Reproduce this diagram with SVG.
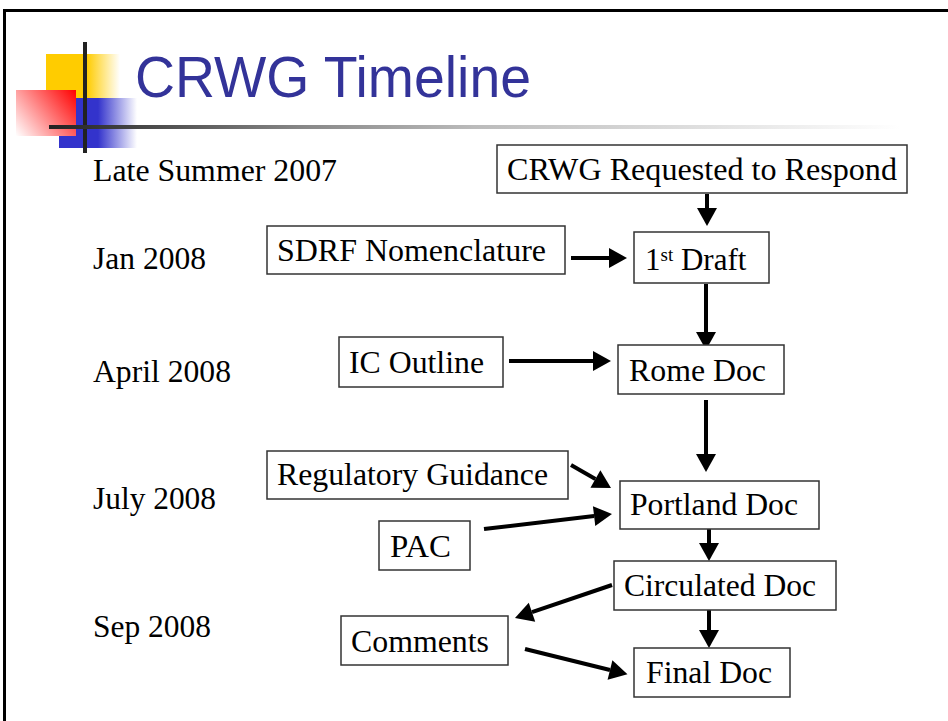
<svg xmlns="http://www.w3.org/2000/svg" width="948" height="721" viewBox="0 0 948 721">
<defs>
<style>
.lbl{font-family:"Liberation Serif","Times New Roman",serif;font-size:31px;fill:#000}
.box rect{fill:#fff;stroke:#333;stroke-width:1.5}
.conn path{fill:none;stroke:#000;stroke-width:4;marker-end:url(#ah)}
</style>
<marker id="ah" markerUnits="userSpaceOnUse" markerWidth="18" markerHeight="20" refX="0" refY="10" orient="auto" overflow="visible">
<path d="M0,0 L18,10 L0,20 z" fill="#000"/>
</marker>
<linearGradient id="gy" x1="46" y1="0" x2="120" y2="0" gradientUnits="userSpaceOnUse">
<stop offset="0" stop-color="#FFCC00"/><stop offset="0.55" stop-color="#FFCC00"/><stop offset="1" stop-color="#FFFFFF"/>
</linearGradient>
<linearGradient id="gb" x1="59" y1="0" x2="137" y2="0" gradientUnits="userSpaceOnUse">
<stop offset="0" stop-color="#3333CC"/><stop offset="0.5" stop-color="#3333CC"/><stop offset="1" stop-color="#FFFFFF"/>
</linearGradient>
<linearGradient id="gr" x1="76" y1="90" x2="16" y2="136" gradientUnits="userSpaceOnUse">
<stop offset="0" stop-color="#FF0000"/><stop offset="1" stop-color="#FFFFFF"/>
</linearGradient>
<linearGradient id="gl" x1="49" y1="0" x2="900" y2="0" gradientUnits="userSpaceOnUse">
<stop offset="0" stop-color="#222"/><stop offset="0.3" stop-color="#888"/><stop offset="0.5" stop-color="#bbb"/><stop offset="1" stop-color="#fff"/>
</linearGradient>
</defs>
<rect x="0" y="0" width="948" height="721" fill="#fff"/>
<!-- frame -->
<line x1="3" y1="10.5" x2="948" y2="10.5" stroke="#000" stroke-width="3"/>
<line x1="4.5" y1="9" x2="4.5" y2="721" stroke="#000" stroke-width="3"/>
<!-- logo -->
<g id="logo">
<rect x="46" y="54" width="74" height="44" fill="url(#gy)"/>
<rect x="59" y="98" width="78" height="50" fill="url(#gb)"/>
<rect x="16" y="90" width="60" height="46" fill="url(#gr)"/>
<rect x="83" y="42" width="4" height="111" fill="#222"/>
<rect x="49" y="125" width="851" height="4" fill="url(#gl)"/>
</g>
<text x="135" y="97" font-family="'Liberation Sans',Arial,sans-serif" font-size="57" fill="#333399" textLength="396" lengthAdjust="spacingAndGlyphs">CRWG Timeline</text>
<!-- date labels -->
<g id="dates">
<text class="lbl" x="93" y="181" textLength="244" lengthAdjust="spacingAndGlyphs">Late Summer 2007</text>
<text class="lbl" x="93" y="269" textLength="113" lengthAdjust="spacingAndGlyphs">Jan 2008</text>
<text class="lbl" x="93" y="382" textLength="138" lengthAdjust="spacingAndGlyphs">April 2008</text>
<text class="lbl" x="93" y="509" textLength="123" lengthAdjust="spacingAndGlyphs">July 2008</text>
<text class="lbl" x="93" y="637" textLength="118" lengthAdjust="spacingAndGlyphs">Sep 2008</text>
</g>
<!-- connectors -->
<g id="connectors" class="conn">
<path d="M707,194 L707,208"/>
<path d="M571,258 L609,258"/>
<path d="M706,284 L706,332"/>
<path d="M509,361 L593,361"/>
<path d="M706,400 L706,454"/>
<path d="M571,465 L595.4,479"/>
<path d="M484,529 L594.1,516.1"/>
<path d="M709,529 L709,543"/>
<path d="M612,585 L532,612.2"/>
<path d="M709,610 L709,630"/>
<path d="M525,649 L610,670"/>
</g>
<!-- nodes -->
<g id="n-crwg" class="box"><rect x="497" y="145" width="410" height="48"/><text class="lbl" x="507" y="180" textLength="390" lengthAdjust="spacingAndGlyphs">CRWG Requested to Respond</text></g>
<g id="n-sdrf" class="box"><rect x="267" y="226" width="298" height="48"/><text class="lbl" x="277" y="261" textLength="269" lengthAdjust="spacingAndGlyphs">SDRF Nomenclature</text></g>
<g id="n-draft" class="box"><rect x="634" y="232" width="135" height="51"/><text class="lbl" x="645" y="270">1<tspan font-size="19" dy="-9">st</tspan><tspan dy="9"> Draft</tspan></text></g>
<g id="n-ic" class="box"><rect x="339" y="337" width="164" height="50"/><text class="lbl" x="349" y="373" textLength="135" lengthAdjust="spacingAndGlyphs">IC Outline</text></g>
<g id="n-rome" class="box"><rect x="618" y="345" width="166" height="49"/><text class="lbl" x="629" y="381" textLength="137" lengthAdjust="spacingAndGlyphs">Rome Doc</text></g>
<g id="n-reg" class="box"><rect x="267" y="451" width="301" height="48"/><text class="lbl" x="277" y="485" textLength="271" lengthAdjust="spacingAndGlyphs">Regulatory Guidance</text></g>
<g id="n-portland" class="box"><rect x="620" y="481" width="199" height="48"/><text class="lbl" x="630" y="515" textLength="168" lengthAdjust="spacingAndGlyphs">Portland Doc</text></g>
<g id="n-pac" class="box"><rect x="379" y="521" width="91" height="49"/><text class="lbl" x="390" y="557" textLength="61" lengthAdjust="spacingAndGlyphs">PAC</text></g>
<g id="n-circ" class="box"><rect x="614" y="561" width="222" height="49"/><text class="lbl" x="624" y="596" textLength="192" lengthAdjust="spacingAndGlyphs">Circulated Doc</text></g>
<g id="n-comments" class="box"><rect x="341" y="616" width="167" height="49"/><text class="lbl" x="351" y="652" textLength="138" lengthAdjust="spacingAndGlyphs">Comments</text></g>
<g id="n-final" class="box"><rect x="634" y="648" width="156" height="49"/><text class="lbl" x="646" y="683" textLength="126" lengthAdjust="spacingAndGlyphs">Final Doc</text></g>
</svg>
